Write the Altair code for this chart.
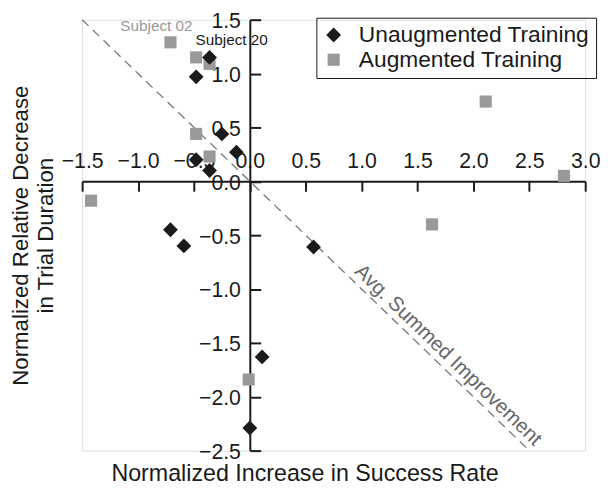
import altair as alt
import pandas as pd

# ---- data ----
unaug_x = [-0.36, -0.48, -0.25, -0.12, -0.48, -0.36, -0.71, -0.59, 0.57, 0.11, 0.00]
unaug_y = [1.15, 0.97, 0.44, 0.27, 0.20, 0.10, -0.45, -0.60, -0.61, -1.63, -2.29]
aug_x = [-0.71, -0.48, -0.36, -0.48, -0.36, -1.42, -0.01, 2.11, 2.81, 1.63]
aug_y = [1.29, 1.15, 1.09, 0.44, 0.23, -0.18, -1.84, 0.74, 0.05, -0.40]
groups = ["Unaugmented Training", "Augmented Training"]

line_x = [-1.5, 2.5]
line_y = [1.5, -2.5]

label_text = ["Subject 02", "Subject 20"]
label_x = [-0.835, -0.162]
label_y = [1.396, 1.268]
label_color = ["#999999", "#1a1a1a"]

avg_text = ["Avg. Summed Improvement"]
avg_x = [1.773]
avg_y = [-1.615]

x_ticks = [-1.5, -1.0, -0.5, 0.0, 0.5, 1.0, 1.5, 2.0, 2.5, 3.0]
y_ticks = [-2.5, -2.0, -1.5, -1.0, -0.5, 0.0, 0.5, 1.0, 1.5]

FONT = "Liberation Sans"
W, H = 509, 436
PX = W / 4.5
PY = H / 4.0
x_axis_offset = -(H - 1.5 * PY)
y_axis_offset = -(W - 1.5 * PX)

pts = pd.DataFrame({
    "x": aug_x + unaug_x,
    "y": aug_y + unaug_y,
    "group": [groups[1]] * len(aug_x) + [groups[0]] * len(unaug_x),
})
line_df = pd.DataFrame({"x": line_x, "y": line_y})
lab_df = pd.DataFrame({"x": label_x, "y": label_y, "t": label_text, "c": label_color})
avg_df = pd.DataFrame({"x": avg_x, "y": avg_y, "t": avg_text})

xs = alt.Scale(domain=[-1.5, 3.0], nice=False, zero=False)
ys = alt.Scale(domain=[-2.5, 1.5], nice=False, zero=False)

legend = alt.Legend(
    orient="none", legendX=237, legendY=-2, title=None,
    labelFontSize=23, labelFont=FONT, labelColor="#1a1a1a", labelLimit=400,
    symbolSize=170, symbolStrokeWidth=0, strokeColor="#1a1a1a",
    padding=6, rowPadding=1, labelOffset=14,
)

points = alt.Chart(pts).mark_point(filled=True, opacity=1).encode(
    x=alt.X("x:Q", scale=xs, axis=alt.Axis(
        orient="bottom", offset=x_axis_offset, values=x_ticks, format=".1f",
        title=None, grid=False, domainColor="#1a1a1a", domainWidth=2,
        tickColor="#1a1a1a", tickWidth=2, tickSize=10,
        labelFontSize=21.5, labelFont=FONT, labelColor="#1a1a1a",
        labelPadding=-23.5, labelBaseline="alphabetic",
        labelFlush=False, labelOverlap=False)),
    y=alt.Y("y:Q", scale=ys, axis=alt.Axis(
        orient="right", offset=y_axis_offset, values=y_ticks, format=".1f",
        title=None, grid=False, domainColor="#1a1a1a", domainWidth=2,
        tickColor="#1a1a1a", tickWidth=2, tickSize=11,
        labelFontSize=21.5, labelFont=FONT, labelColor="#1a1a1a",
        labelPadding=-20.5, labelAlign="right", labelBaseline="middle",
        labelOffset=2, labelFlush=False, labelOverlap=False)),
    color=alt.Color("group:N", scale=alt.Scale(domain=groups, range=["#1a1a1a", "#999999"]), legend=legend),
    shape=alt.Shape("group:N", scale=alt.Scale(domain=groups, range=["diamond", "square"]), legend=legend),
    size=alt.Size("group:N", scale=alt.Scale(domain=groups, range=[225, 150]), legend=None),
    order=alt.Order("ord:Q"),
).transform_calculate(ord="datum.group == 'Augmented Training' ? 0 : 1")

dline = alt.Chart(line_df).mark_line(color="#777777", strokeDash=[9, 6], strokeWidth=1.3).encode(
    x=alt.X("x:Q", scale=xs, axis=alt.Axis(
        orient="bottom", labels=False, ticks=False, domain=False, grid=False,
        title="Normalized Increase in Success Rate", titleFontSize=23.5, titleFont=FONT,
        titleFontWeight="normal", titleColor="#1a1a1a", titleX=225, titleY=30.5,
        titleAlign="center", titleBaseline="alphabetic")),
    y=alt.Y("y:Q", scale=ys, axis=alt.Axis(
        orient="left", labels=False, ticks=False, domain=False, grid=False,
        title=["Normalized Relative Decrease", "in Trial Duration"], titleFontSize=22.5,
        titleFont=FONT, titleFontWeight="normal", titleColor="#1a1a1a",
        titleX=-55.5, titleY=H / 2, titleAngle=270, titleAlign="center",
        titleBaseline="alphabetic", titleLineHeight=26)),
)

labels = alt.Chart(lab_df).mark_text(font=FONT, fontSize=15.5, align="center", baseline="alphabetic").encode(
    x=alt.X("x:Q", scale=xs, axis=None), y=alt.Y("y:Q", scale=ys, axis=None),
    text="t:N", color=alt.Color("c:N", scale=None),
)

avg = alt.Chart(avg_df).mark_text(font=FONT, fontSize=20.5, align="center", baseline="middle",
                                  angle=44, color="#666666").encode(
    x=alt.X("x:Q", scale=xs, axis=None), y=alt.Y("y:Q", scale=ys, axis=None), text="t:N",
)

chart = alt.layer(dline, points, labels, avg).resolve_axis(
    x="independent", y="independent"
).properties(
    width=W, height=H,
    autosize=alt.AutoSizeParams(type="none"),
    padding={"left": 75, "top": 9, "right": 18, "bottom": 37},
).configure_view(stroke=None).configure(font=FONT)

chart.save("out.html", embed_options={"renderer": "svg", "actions": False})
